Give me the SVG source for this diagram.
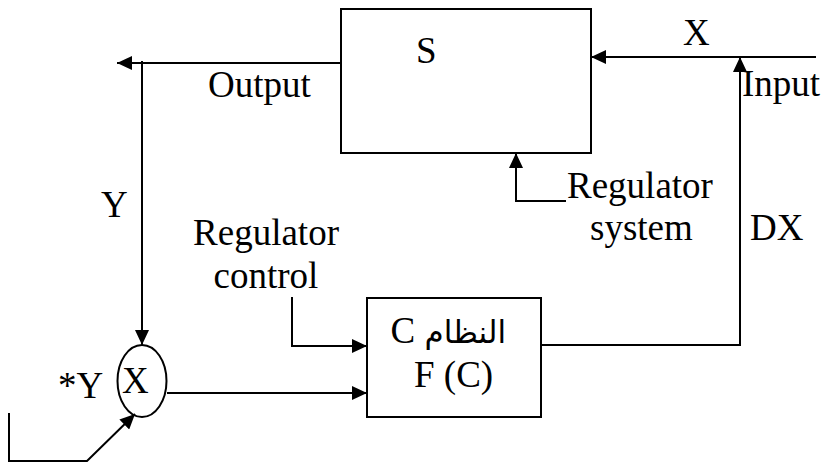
<svg xmlns="http://www.w3.org/2000/svg" width="822" height="466" viewBox="0 0 822 466">
<style>
.t{font-family:"Liberation Serif","Times New Roman",serif;font-size:37px;fill:#000}
.ar{font-family:"Liberation Serif","DejaVu Sans","Noto Sans",serif;font-size:37px;fill:#000}
.arw{font-family:"DejaVu Sans","Noto Sans",sans-serif;font-size:31px}
.ln{fill:none;stroke:#000;stroke-width:2}
.box{fill:#fff;stroke:#000;stroke-width:2}
</style>
<defs>
<marker id="ah" markerUnits="userSpaceOnUse" markerWidth="16" markerHeight="14" refX="15" refY="7" orient="auto" viewBox="0 0 16 14">
<path d="M0,0 L15,7 L0,14 z" fill="#000"/>
</marker>
</defs>
<rect width="822" height="466" fill="#fff"/>
<g id="connectors">
<path class="ln" d="M341,63 L117,63" marker-end="url(#ah)"/>
<path class="ln" d="M142,61 L142,345" marker-end="url(#ah)"/>
<path class="ln" d="M816,57 L591,57" marker-end="url(#ah)"/>
<path class="ln" d="M541,345 L740,345 L740,57" marker-end="url(#ah)"/>
<path class="ln" d="M566,201 L516,201 L516,153" marker-end="url(#ah)"/>
<path class="ln" d="M292,297 L292,346 L367,346" marker-end="url(#ah)"/>
<path class="ln" d="M167,393 L367,393" marker-end="url(#ah)"/>
<path class="ln" d="M9,413 L9,461 L87,461 L135,414" marker-end="url(#ah)"/>
</g>
<g id="S">
<rect class="box" x="341" y="9" width="250" height="144"/>
<text class="t" x="416" y="63">S</text>
</g>
<g id="C">
<rect class="box" x="367" y="298" width="174" height="119"/>
<text class="ar" x="506" y="343" direction="rtl" text-anchor="start"><tspan class="arw">النظام</tspan> C</text>
<text class="t" x="414" y="387">F (C)</text>
</g>
<g id="mult">
<ellipse class="ln" cx="142" cy="381" rx="24.5" ry="36"/>
<text class="t" x="122" y="393">X</text>
</g>
<g id="labels">
<text class="t" x="683" y="45">X</text>
<text class="t" x="742" y="96">Input</text>
<text class="t" x="208" y="97">Output</text>
<text class="t" x="101" y="217">Y</text>
<text class="t" x="266" y="245" text-anchor="middle">Regulator</text>
<text class="t" x="266" y="288" text-anchor="middle">control</text>
<text class="t" x="567" y="198">Regulator</text>
<text class="t" x="590" y="240">system</text>
<text class="t" x="750" y="240">DX</text>
<text class="t" x="58" y="398">*Y</text>
</g>
</svg>
